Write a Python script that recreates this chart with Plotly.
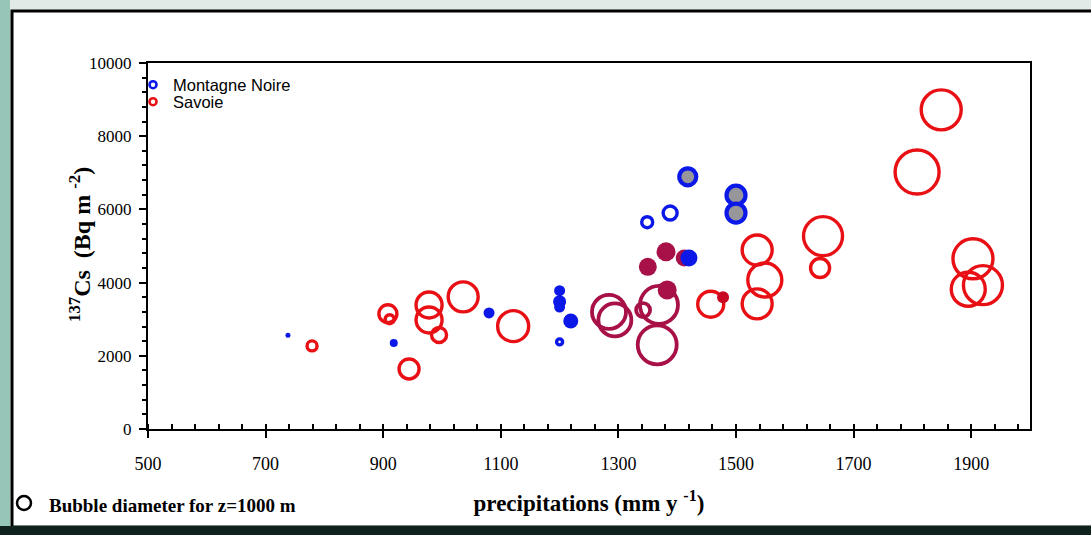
import plotly.graph_objects as go

# ---- Data ----
# Montagne Noire (blue)
mn_filled_x = [738, 918, 1080, 1200, 1200, 1200, 1219, 1420]
mn_filled_y = [2560, 2350, 3170, 3780, 3480, 3330, 2950, 4670]
mn_filled_d = [5, 8, 11, 11, 13, 11, 15, 17]

mn_ring_x = [1200, 1349, 1388]
mn_ring_y = [2380, 5650, 5900]
mn_ring_d = [6, 11, 14]

mn_gray_x = [1418, 1500, 1500]
mn_gray_y = [6890, 6390, 5900]
mn_gray_d = [17, 19, 19]

# Savoie (red)
sv_ring_x = [779, 908, 911, 944, 978, 978, 995, 1036, 1121, 1457, 1536, 1549, 1536,
             1648, 1643, 1808, 1849, 1903, 1895, 1920]
sv_ring_y = [2270, 3150, 3000, 1640, 3390, 2980, 2570, 3610, 2810, 3410, 4890, 4070, 3420,
             5270, 4400, 7020, 8720, 4650, 3820, 3930]
sv_ring_d = [10, 18, 9, 20, 26, 26, 15, 30, 31, 26, 30, 34, 30,
             39, 19, 44, 40, 40, 34, 39]

sv_dark_ring_x = [1284, 1294, 1369, 1342, 1366]
sv_dark_ring_y = [3200, 2980, 3390, 3250, 2300]
sv_dark_ring_d = [34, 33, 38, 14, 39]

sv_dark_fill_x = [1412, 1350, 1381, 1383]
sv_dark_fill_y = [4670, 4430, 4840, 3800]
sv_dark_fill_d = [17, 18, 19, 19]

sv_fill_x = [1478]
sv_fill_y = [3600]
sv_fill_d = [12]

x_ticks = [500, 700, 900, 1100, 1300, 1500, 1700, 1900]
y_ticks = [0, 2000, 4000, 6000, 8000, 10000]
y_ticklabels = ["0", "2000", "4000", "6000", "8000", "10000"]

BLUE = "rgb(12,24,232)"
RED = "rgb(232,16,20)"
DARK = "rgb(168,16,72)"
DRED = "rgb(200,8,36)"

fig = go.Figure()

# Savoie rings
fig.add_trace(go.Scatter(x=sv_ring_x, y=sv_ring_y, mode="markers", showlegend=False,
                         marker=dict(size=sv_ring_d, color="rgba(0,0,0,0)", opacity=1,
                                     line=dict(color=RED, width=3.4))))
fig.add_trace(go.Scatter(x=sv_dark_ring_x, y=sv_dark_ring_y, mode="markers", showlegend=False,
                         marker=dict(size=sv_dark_ring_d, color="rgba(0,0,0,0)", opacity=1,
                                     line=dict(color=DARK, width=3.8))))
fig.add_trace(go.Scatter(x=sv_dark_fill_x, y=sv_dark_fill_y, mode="markers", showlegend=False,
                         marker=dict(size=sv_dark_fill_d, color=DARK, opacity=1, line=dict(width=0))))
fig.add_trace(go.Scatter(x=sv_fill_x, y=sv_fill_y, mode="markers", showlegend=False,
                         marker=dict(size=sv_fill_d, color=DRED, opacity=1, line=dict(width=0))))

# Montagne Noire
fig.add_trace(go.Scatter(x=mn_filled_x, y=mn_filled_y, mode="markers", showlegend=False,
                         marker=dict(size=mn_filled_d, color=BLUE, opacity=1, line=dict(width=0))))
fig.add_trace(go.Scatter(x=mn_ring_x, y=mn_ring_y, mode="markers", showlegend=False,
                         marker=dict(size=mn_ring_d, color="rgba(0,0,0,0)", opacity=1,
                                     line=dict(color=BLUE, width=3.4))))
fig.add_trace(go.Scatter(x=mn_gray_x, y=mn_gray_y, mode="markers", showlegend=False,
                         marker=dict(size=mn_gray_d, color="rgb(150,150,155)", opacity=1,
                                     line=dict(color=BLUE, width=4.2))))

# Legend entries (one legend box each, to control spacing)
fig.add_trace(go.Scatter(x=[None], y=[None], mode="markers", name="Montagne Noire", legend="legend",
                         marker=dict(size=7, color="rgba(0,0,0,0)", opacity=1,
                                     line=dict(color=BLUE, width=2.6))))
fig.add_trace(go.Scatter(x=[None], y=[None], mode="markers", name="Savoie", legend="legend2",
                         marker=dict(size=7, color="rgba(0,0,0,0)", opacity=1,
                                     line=dict(color=RED, width=2.6))))

W, H = 1091, 535
L, R, T, B = 148, 61, 63, 106
pw, ph = W - L - R, H - T - B


def px(xp):
    return (xp - L) / pw


def py(yp):
    return (H - B - yp) / ph


shapes = [
    dict(type="rect", xref="paper", yref="paper", layer="below",
         x0=px(12), x1=px(1100), y0=py(527), y1=py(11),
         fillcolor="white", line=dict(color="black", width=3)),
    dict(type="rect", xref="paper", yref="paper", layer="below",
         x0=px(0), x1=px(1100), y0=py(540), y1=py(526),
         fillcolor="rgb(16,34,30)", line=dict(width=0)),
    dict(type="rect", xref="paper", yref="paper", layer="below",
         x0=px(0), x1=px(10), y0=py(526), y1=py(0),
         fillcolor="rgb(150,198,184)", line=dict(width=0)),
    dict(type="circle", xref="paper", yref="paper",
         x0=px(17), x1=px(31), y0=py(510), y1=py(496),
         line=dict(color="black", width=2.5), fillcolor="rgba(0,0,0,0)"),
]

legend_font = dict(family="Liberation Sans, Arial", size=16.5, color="black")
fig.update_layout(
    width=W, height=H,
    margin=dict(l=L, r=R, t=T, b=B, autoexpand=False),
    paper_bgcolor="rgb(226,234,231)",
    plot_bgcolor="white",
    shapes=shapes,
    showlegend=True,
    legend=dict(x=-0.017, y=py(85), xanchor="left", yanchor="middle",
                bgcolor="rgba(0,0,0,0)", font=legend_font, itemwidth=30),
    legend2=dict(x=-0.017, y=py(102), xanchor="left", yanchor="middle",
                 bgcolor="rgba(0,0,0,0)", font=legend_font, itemwidth=30),
    annotations=[
        dict(text="<b>Bubble diameter for z=1000 m</b>", xref="paper", yref="paper",
             x=px(47), y=py(505), xanchor="left", yanchor="middle", showarrow=False,
             font=dict(family="Liberation Serif, Times New Roman", size=19, color="black")),
        dict(text="<b><sup>137</sup>Cs  (Bq m <sup>-2</sup>)</b>", xref="paper", yref="paper",
             x=px(80), y=py(245), xanchor="center", yanchor="middle", textangle=-90, showarrow=False,
             font=dict(family="Liberation Serif, Times New Roman", size=24, color="black")),
    ],
)

fig.update_xaxes(
    range=[500, 2000], tickvals=x_ticks, ticks="outside", ticklen=7, tickwidth=2, tickcolor="black",
    showline=True, linecolor="black", linewidth=2, mirror=True, showgrid=False, zeroline=False,
    minor=dict(dtick=40, tick0=500, ticks="inside", ticklen=5, tickwidth=1.5, tickcolor="black", showgrid=False),
    tickfont=dict(family="Liberation Serif, Times New Roman", size=18, color="black"),
    ticklabelstandoff=10,
    title=dict(text="<b>precipitations (mm y <sup>-1</sup>)</b>", standoff=22,
               font=dict(family="Liberation Serif, Times New Roman", size=23, color="black")),
)
fig.update_yaxes(
    range=[0, 10000], tickvals=y_ticks, ticktext=y_ticklabels, ticks="outside", ticklen=7, tickwidth=2,
    tickcolor="black",
    showline=True, linecolor="black", linewidth=2, mirror=True, showgrid=False, zeroline=False,
    minor=dict(dtick=400, tick0=0, ticks="outside", ticklen=4, tickwidth=1.5, tickcolor="black", showgrid=False),
    tickfont=dict(family="Liberation Serif, Times New Roman", size=17, color="black"),
    ticklabelstandoff=4,
)

fig.write_html("out.html", config={"displayModeBar": False},
               post_script="document.body.style.margin='0';document.body.style.overflow='hidden';")
